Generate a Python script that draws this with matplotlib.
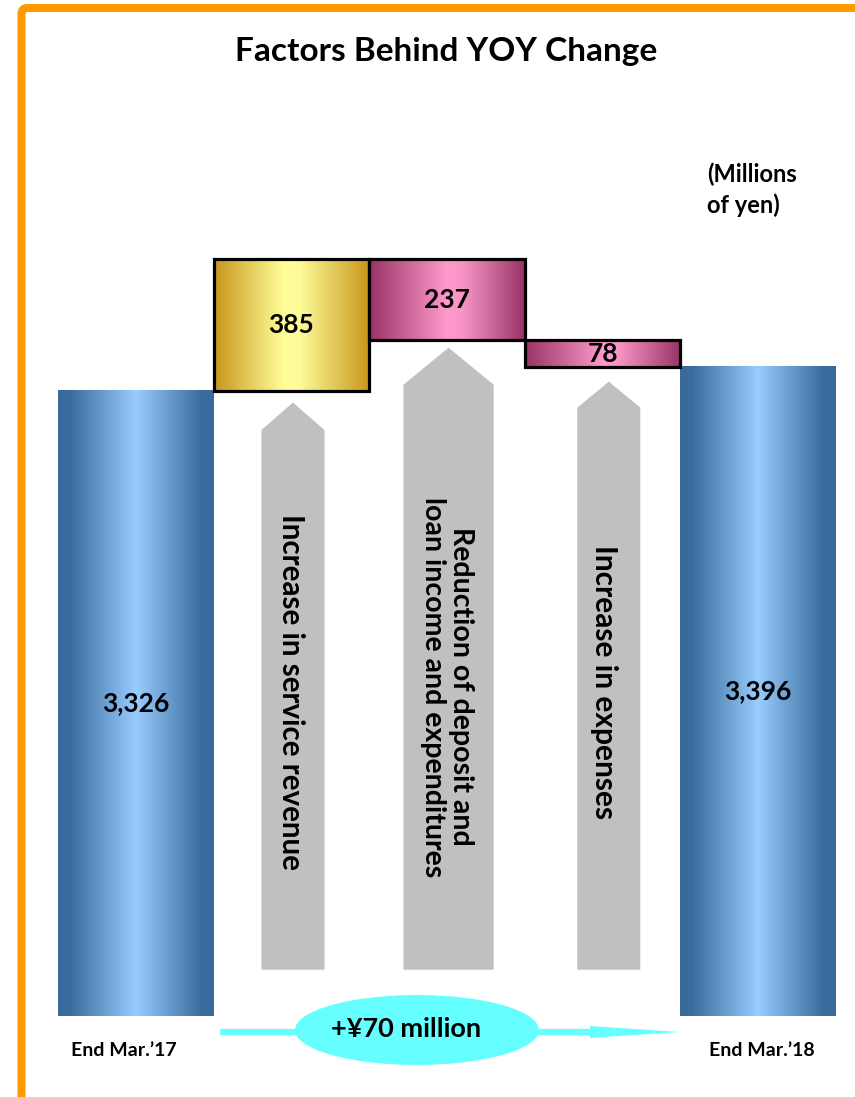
import matplotlib
matplotlib.use("Agg")
import matplotlib.pyplot as plt
import numpy as np
from matplotlib.colors import LinearSegmentedColormap
from matplotlib.patches import Rectangle, Polygon, Ellipse, FancyBboxPatch

plt.rcParams["font.family"] = ["Lato", "DejaVu Sans"]

# balances at the two year ends and the factors in between (millions of yen)
period_labels = ["End Mar.\u201917", "End Mar.\u201918"]
start_value = 3326
end_value = 3396
factor_labels = [
    "Increase in service revenue",
    "Reduction of deposit and\nloan income and expenditures",
    "Increase in expenses",
]
factor_values = [385, -237, -78]

W, H = 855, 1097
BASE = 1503  # value axis is cut here so the changes stay readable

blue = LinearSegmentedColormap.from_list(
    "blue", [(0, "#386a9b"), (0.08, "#3a6c9d"), (0.5, "#99ccff"), (0.92, "#3a6c9d"), (1, "#386a9b")])
gold = LinearSegmentedColormap.from_list(
    "gold", [(0, "#c8961c"), (0.45, "#ffff99"), (0.55, "#fdfb98"), (1, "#c8961c")])
pink = LinearSegmentedColormap.from_list(
    "pink", [(0, "#993366"), (0.5, "#ff99cc"), (0.6, "#f895c6"), (1, "#993366")])
grad = np.linspace(0, 1, 256)[None, :]

fig = plt.figure(figsize=(W / 100, H / 100), dpi=100)

# full-figure layer for frame, title and the bottom arrow (pixel coordinates)
deco = fig.add_axes([0, 0, 1, 1])
deco.set_xlim(0, W)
deco.set_ylim(H, 0)
deco.axis("off")
deco.add_patch(FancyBboxPatch((21.5, 8), 900, 1200, boxstyle="round,pad=0,rounding_size=6",
                              fill=False, ec="#ff9900", lw=5.8))
deco.text(446, 52, "Factors Behind YOY Change", ha="center", va="center",
          fontsize=24, fontweight="bold")
deco.text(707, 190, "(Millions\nof yen)", ha="left", va="center", fontsize=17,
          fontweight="bold", linespacing=1.35)

# main waterfall axes
ax = fig.add_axes([58 / W, (H - 1016) / H, 778 / W, 916 / H])
ax.patch.set_alpha(0)
ax.axis("off")

n = len(factor_values)
tops = start_value + np.cumsum(factor_values)
lows = np.concatenate([[start_value], tops[:-1]])

# totals
for i, v in [(0, start_value), (n + 1, end_value)]:
    ax.imshow(grad, cmap=blue, extent=[i - 0.5, i + 0.5, BASE, v], aspect="auto", zorder=2)
    ax.text(i, (BASE + v) / 2, f"{v:,}", ha="center", va="center", fontsize=19,
            fontweight="bold", zorder=5)

# gray block arrows behind the factor boxes
arrow_geom = [(1.01, 0.2025, 3292, 3212), (2.01, 0.29, 3452, 3344), (3.04, 0.2025, 3353, 3277)]
text_pos = [(1.0, 2449), (2.0, 2463), (3.01, 2478)]
text_size = [21.3, 20.5, 21.5]
for (cx, hw, tip, sh), (tx, ty), fs, lab in zip(arrow_geom, text_pos, text_size, factor_labels):
    ax.add_patch(Polygon([(cx - hw, 1638), (cx - hw, sh), (cx, tip), (cx + hw, sh), (cx + hw, 1638)],
                         closed=True, fc="#c0c0c0", ec="none", zorder=1))
    ax.text(tx, ty, lab, rotation=270, ha="center", va="center", fontsize=fs,
            fontweight="bold", linespacing=1.1, multialignment="center", zorder=3)

# factor boxes
for k, (lo, hi, d) in enumerate(zip(lows, tops, factor_values)):
    i = k + 1
    y0, y1 = min(lo, hi), max(lo, hi)
    ax.imshow(grad, cmap=gold if d > 0 else pink, extent=[i - 0.5, i + 0.5, y0, y1],
              aspect="auto", zorder=2)
    ax.add_patch(Rectangle((i - 0.5, y0), 1, y1 - y0, fill=False, ec="black", lw=2.3, zorder=4))
    ax.text(i, (y0 + y1) / 2, f"{abs(d)}", ha="center", va="center", fontsize=19,
            fontweight="bold", zorder=5)

ax.set_xlim(-0.5, n + 1.5)
ax.set_ylim(BASE, BASE + 916 / 0.3429)

# net change arrow along the bottom
deco.plot([220, 592], [1032, 1032], color="#66ffff", lw=4.5, solid_capstyle="butt", zorder=1)
deco.add_patch(Polygon([(590, 1026), (680, 1032), (590, 1038)], closed=True,
                       fc="#66ffff", ec="none", zorder=1))
deco.add_patch(Ellipse((417, 1030), 244, 70, fc="#66ffff", ec="none", zorder=2))
deco.text(406, 1029, f"+\u00a5{end_value - start_value} million", ha="center", va="center",
          fontsize=19.5, fontweight="bold", zorder=3)
deco.text(124, 1051, period_labels[0], ha="center", va="center", fontsize=14, fontweight="bold")
deco.text(762, 1051, period_labels[1], ha="center", va="center", fontsize=14, fontweight="bold")

fig.savefig("out.png", dpi=100)
